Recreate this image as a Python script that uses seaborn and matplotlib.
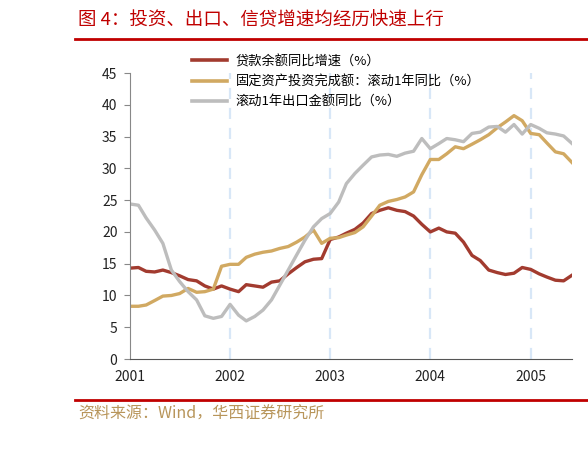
import pandas as pd
import matplotlib
matplotlib.use("Agg")
import matplotlib.pyplot as plt
import matplotlib.dates as mdates
import seaborn as sns

# monthly, Jan 2001 - Jun 2005
months = pd.date_range("2001-01-01", periods=54, freq="MS")

loans = [14.3, 14.4, 13.8, 13.7, 14.0, 13.6, 13.1, 12.5, 12.3, 11.5,
         11.0, 11.5, 11.0, 10.6, 11.7, 11.5, 11.3, 12.1, 12.3, 13.4,
         14.4, 15.3, 15.7, 15.8, 18.8, 19.2, 19.8, 20.4, 21.4, 22.9,
         23.4, 23.8, 23.4, 23.2, 22.5, 21.2, 20.0, 20.6, 20.0, 19.8,
         18.4, 16.3, 15.5, 14.0, 13.6, 13.3, 13.5, 14.4, 14.1, 13.4,
         12.9, 12.4, 12.3, 13.2]

fai = [8.3, 8.3, 8.5, 9.2, 9.9, 10.0, 10.3, 11.1, 10.5, 10.6,
       11.0, 14.6, 14.9, 14.9, 16.0, 16.5, 16.8, 17.0, 17.4, 17.7,
       18.4, 19.2, 20.3, 18.2, 19.0, 19.1, 19.5, 19.9, 20.8, 22.5,
       24.2, 24.8, 25.1, 25.5, 26.3, 29.0, 31.4, 31.4, 32.3, 33.4,
       33.1, 33.8, 34.5, 35.3, 36.4, 37.3, 38.3, 37.5, 35.5, 35.3,
       34.0, 32.6, 32.3, 30.9]

exports = [24.4, 24.2, 22.2, 20.3, 18.2, 14.0, 12.2, 10.6, 9.3, 6.8,
           6.4, 6.7, 8.6, 6.9, 6.0, 6.7, 7.7, 9.3, 11.6, 14.0,
           16.4, 18.7, 20.8, 22.1, 22.9, 24.7, 27.6, 29.2, 30.5, 31.8,
           32.1, 32.2, 31.9, 32.4, 32.7, 34.7, 33.1, 33.9, 34.7, 34.5,
           34.2, 35.5, 35.7, 36.5, 36.6, 35.7, 36.9, 35.4, 36.9, 36.3,
           35.6, 35.4, 35.1, 33.9]

names = ["贷款余额同比增速（%）",
         "固定资产投资完成额：滚动1年同比（%）",
         "滚动1年出口金额同比（%）"]
colors = ["#a23b2f", "#d1a962", "#bdbdbd"]

df = pd.concat([
    pd.DataFrame({"date": months, "value": vals, "series": nm})
    for nm, vals in zip(names, [loans, fai, exports])
])

plt.rcParams["font.family"] = ["Noto Sans CJK SC", "DejaVu Sans"]

fig = plt.figure(figsize=(5.88, 4.63), dpi=100)
ax = fig.add_axes([0.221, 0.2246, 0.752, 0.6176])

# year separators
for yr in [2002, 2003, 2004, 2005]:
    ax.axvline(pd.Timestamp(f"{yr}-01-01"), color="#d8e7f7", lw=1.6,
               ls=(0, (5, 4)), zorder=0)

sns.lineplot(data=df, x="date", y="value", hue="series", hue_order=names,
             palette=colors, linewidth=2.4, ax=ax)

ax.set_xlim(months[0], months[-1])
ax.set_ylim(0, 45)
ax.set_yticks(range(0, 46, 5))
ax.xaxis.set_major_locator(mdates.YearLocator())
ax.xaxis.set_major_formatter(mdates.DateFormatter("%Y"))
ax.set_xlabel("")
ax.set_ylabel("")
ax.tick_params(axis="x", length=0, pad=8, labelsize=10, colors="#222222")
ax.tick_params(axis="y", length=4, color="#888888", labelsize=10,
               labelcolor="#222222", pad=5)
for s in ["top", "right"]:
    ax.spines[s].set_visible(False)
ax.spines["left"].set_color("#888888")
ax.spines["bottom"].set_color("#555555")

leg = ax.legend(loc="upper left", bbox_to_anchor=(0.14, 1.064), frameon=False,
                fontsize=9.5, handlelength=2.7, handletextpad=0.6,
                labelspacing=0.55, borderaxespad=0, borderpad=0)
for ln in leg.get_lines():
    ln.set_linewidth(2.6)

# title, rules and source
fig.text(0.133, 0.957, "图 4：投资、出口、信贷增速均经历快速上行",
         color="#c00000", fontsize=13.3, va="center", ha="left")
fig.add_artist(plt.Line2D([0.128, 1.0], [0.915, 0.915], color="#c00000",
                          lw=2, transform=fig.transFigure))
fig.add_artist(plt.Line2D([0.128, 1.0], [0.136, 0.136], color="#c00000",
                          lw=2, transform=fig.transFigure))
fig.text(0.133, 0.105, "资料来源：Wind，华西证券研究所",
         color="#b8955a", fontsize=11.5, va="center", ha="left")

fig.savefig("out.png", dpi=100)
